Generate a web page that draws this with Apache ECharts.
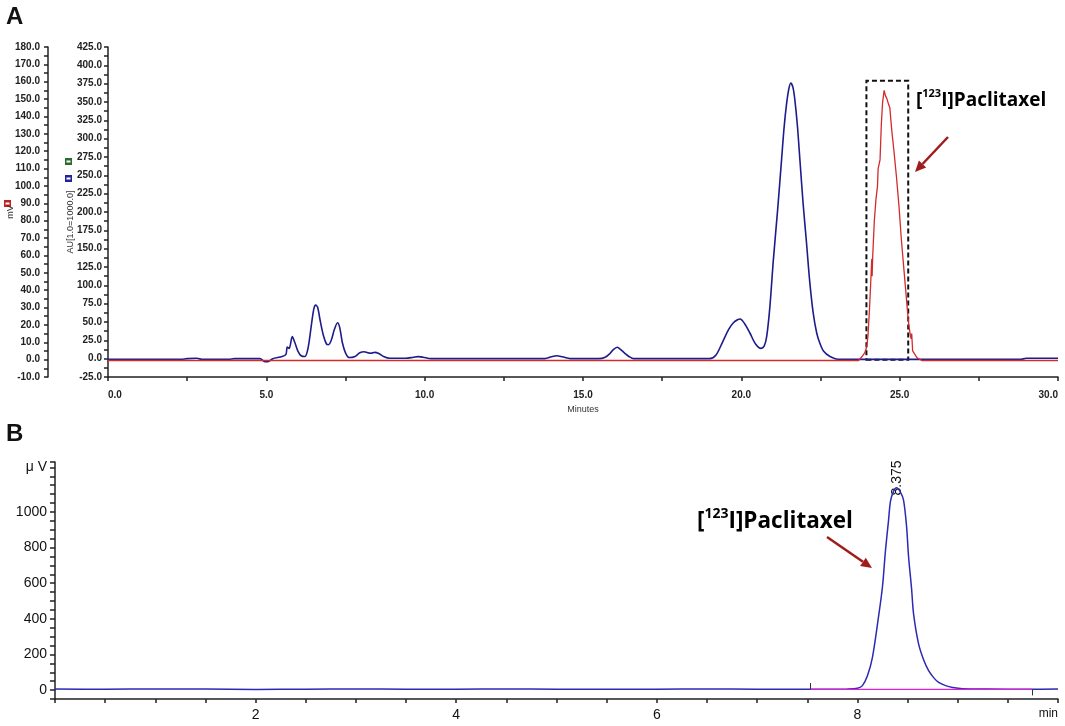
<!DOCTYPE html>
<html>
<head>
<meta charset="utf-8">
<script src="https://cdn.jsdelivr.net/npm/echarts@6/dist/echarts.min.js"></script>
<style>
  html, body { margin: 0; padding: 0; background: #fff; }
  #chart { width: 1065px; height: 726px; }
</style>
</head>
<body>
<div id="chart"></div>
<script>
// ---- panel A : UV trace (AU) and radio trace (mV) vs minutes ----
const uvTrace = [
  [0, -1], [2.3, -1], [2.5, 0], [2.8, 0.5], [3.0, -1], [3.8, -1], [4.0, 0], [4.8, 0],
  [4.95, -4], [5.05, -4], [5.2, 0], [5.5, 3], [5.62, 6], [5.66, 16], [5.72, 14], [5.82, 30],
  [5.9, 22], [6.0, 10], [6.1, 4], [6.22, 3], [6.32, 15], [6.42, 45], [6.5, 68], [6.56, 73],
  [6.62, 70], [6.7, 52], [6.8, 32], [6.9, 20], [6.96, 19], [7.05, 25], [7.15, 40], [7.25, 49],
  [7.32, 42], [7.4, 22], [7.5, 8], [7.62, 1.5], [7.8, 3], [7.95, 8], [8.09, 9.5], [8.2, 8],
  [8.3, 7.3], [8.43, 8.6], [8.55, 7], [8.7, 3], [8.9, 0.5], [9.4, 0.5], [9.65, 2], [9.8, 2.8],
  [9.95, 2], [10.2, 0], [13.8, 0], [14.0, 2.5], [14.17, 4], [14.35, 2.5], [14.6, 0], [15.5, 0],
  [15.7, 2], [15.85, 7], [15.95, 12], [16.08, 15.5], [16.2, 12], [16.33, 7], [16.45, 3], [16.6, 0],
  [19.0, 0], [19.2, 5], [19.4, 22], [19.6, 40], [19.75, 49], [19.88, 53], [19.96, 54], [20.1, 48],
  [20.27, 35], [20.45, 20], [20.62, 14], [20.72, 17], [20.8, 30], [20.9, 70], [21.01, 134],
  [21.15, 205], [21.27, 271], [21.35, 315], [21.43, 348], [21.5, 368], [21.56, 376], [21.63, 370],
  [21.69, 353], [21.77, 318], [21.85, 271], [21.95, 212], [22.06, 157], [22.16, 105], [22.27, 62],
  [22.38, 35], [22.48, 21], [22.6, 10], [22.8, 3], [23.1, -1], [28.8, -1], [29.0, 0.5], [30, 0.5]
];
const radioTrace = [
  [0, -0.5], [23.7, -0.5], [23.8, 1.5], [23.9, 4], [23.96, 7.4], [24.0, 14], [24.05, 30],
  [24.1, 50], [24.12, 58], [24.13, 48], [24.15, 60], [24.2, 80], [24.25, 92], [24.3, 100],
  [24.32, 110], [24.38, 115], [24.42, 135], [24.46, 148], [24.51, 155], [24.55, 152], [24.6, 150],
  [24.65, 147], [24.69, 145], [24.75, 132], [24.82, 120], [24.9, 105], [24.98, 88], [25.05, 70],
  [25.11, 57], [25.2, 38], [25.27, 23], [25.32, 16], [25.36, 12], [25.38, 15], [25.41, 5],
  [25.48, 3], [25.55, 1], [25.7, -0.5], [30, -0.5]
];
const radioBox = [23.95, 0, 25.27, 160.6]; // minutes / mV

// ---- panel B : radio-HPLC of the product ----
const hplcTrace = [
  [0, 6], [0.5, 5], [1, 6], [1.5, 6], [2, 4], [2.5, 5], [3, 6], [3.5, 5], [4, 5], [4.5, 6],
  [5, 5], [5.5, 5], [6, 5], [6.5, 6], [7, 5], [7.5, 5], [7.9, 6], [8.0, 10], [8.05, 25],
  [8.1, 80], [8.15, 184], [8.21, 409], [8.25, 580], [8.28, 784], [8.31, 950], [8.33, 1060],
  [8.36, 1115], [8.39, 1135], [8.43, 1110], [8.46, 1066], [8.49, 920], [8.51, 750], [8.54, 570],
  [8.56, 428], [8.61, 259], [8.66, 170], [8.71, 109], [8.76, 70], [8.81, 43], [8.88, 25],
  [8.95, 15], [9.05, 8], [9.3, 6], [9.7, 5], [10, 6]
];
const hplcBaseline = [[7.53, 4], [9.74, 4]];
const peakTime = '8.375';

const darkRed = '#a01c1c';
const axisCol = '#222';

function arrow(x1, y1, x2, y2) {
  const dx = x2 - x1, dy = y2 - y1, len = Math.sqrt(dx * dx + dy * dy);
  const ux = dx / len, uy = dy / len, hl = 11, hw = 5;
  const bx = x2 - ux * hl, by = y2 - uy * hl;
  return [
    { type: 'line', shape: { x1: x1, y1: y1, x2: bx, y2: by }, style: { stroke: darkRed, lineWidth: 2.5 } },
    { type: 'polygon', shape: { points: [[x2, y2], [bx - uy * hw, by + ux * hw], [bx + uy * hw, by - ux * hw]] }, style: { fill: darkRed } }
  ];
}

function legendBox(x, y, col) {
  return [
    { type: 'rect', shape: { x: x, y: y, width: 7, height: 7 }, style: { fill: col } },
    { type: 'rect', shape: { x: x + 1.5, y: y + 2.5, width: 4, height: 2 }, style: { fill: '#fff' } }
  ];
}

const labelRich = (size) => ({
  b: { fontSize: size, fontWeight: 'bold', color: darkRed, fontFamily: 'Open Sans', lineHeight: size * 1.3 },
  s: { fontSize: Math.round(size * 0.6), fontWeight: 'bold', color: darkRed, fontFamily: 'Open Sans', verticalAlign: 'top', lineHeight: size * 1.3 }
});

const chart = echarts.init(document.getElementById('chart'));

const tickStyle = { color: axisCol, width: 1.5 };
const lblA = { fontSize: 10, fontWeight: 'bold', color: axisCol, fontFamily: 'Liberation Sans' };
const nameA = { fontSize: 9, color: '#333', fontFamily: 'Liberation Sans' };

const option = {
  animation: false,
  backgroundColor: '#fff',
  grid: [
    { left: 108, top: 47, right: 7, height: 330, outerBoundsMode: 'none', containLabel: false },
    { left: 55, top: 462, right: 7, height: 237, outerBoundsMode: 'none', containLabel: false }
  ],
  xAxis: [
    {
      gridIndex: 0, type: 'value', min: 0, max: 30, interval: 2.5,
      name: 'Minutes', nameLocation: 'middle', nameGap: 28, nameTextStyle: nameA,
      axisLine: { onZero: false, lineStyle: tickStyle },
      axisTick: { length: 4, lineStyle: tickStyle },
      axisLabel: Object.assign({
        margin: 13, alignMinLabel: 'left', alignMaxLabel: 'right',
        formatter: v => (v % 5 === 0 ? v.toFixed(1) : '')
      }, lblA),
      splitLine: { show: false }
    },
    {
      gridIndex: 1, type: 'value', min: 0, max: 10, interval: 0.5,
      axisLine: { onZero: false, lineStyle: tickStyle },
      axisTick: { length: 4, lineStyle: tickStyle },
      axisLabel: {
        margin: 9, fontSize: 14, color: '#111', fontFamily: 'Liberation Sans', alignMaxLabel: 'right',
        formatter: v => (v === 10 ? '{u|min}' : (v > 0 && v % 2 === 0 ? String(v) : '')),
        rich: { u: { fontSize: 12, color: '#111', fontFamily: 'Liberation Sans' } }
      },
      splitLine: { show: false }
    }
  ],
  yAxis: [
    {
      gridIndex: 0, type: 'value', position: 'left', offset: 60, min: -10, max: 180, interval: 5,
      name: 'mV', nameLocation: 'middle', nameRotate: 90, nameGap: 33, nameMoveOverlap: false,
      nameTextStyle: nameA,
      axisLine: { show: true, onZero: false, lineStyle: tickStyle },
      axisTick: { length: 4, lineStyle: tickStyle },
      axisLabel: Object.assign({ margin: 8, formatter: v => (v % 10 === 0 ? v.toFixed(1) : '') }, lblA),
      splitLine: { show: false }
    },
    {
      gridIndex: 0, type: 'value', position: 'left', offset: 0, min: -25, max: 425, interval: 12.5,
      name: 'AU[1.0=1000.0]', nameLocation: 'middle', nameRotate: 90, nameGap: 33, nameMoveOverlap: false,
      nameTextStyle: Object.assign({ padding: [0, 20, 0, 0] }, nameA),
      axisLine: { show: true, onZero: false, lineStyle: tickStyle },
      axisTick: { length: 4, lineStyle: tickStyle },
      axisLabel: Object.assign({ margin: 6, formatter: v => (v % 25 === 0 ? v.toFixed(1) : '') }, lblA),
      splitLine: { show: false }
    },
    {
      gridIndex: 1, type: 'value', min: -50, max: 1280, interval: 50,
      axisLine: { show: true, onZero: false, lineStyle: tickStyle },
      axisTick: { length: 5, lineStyle: tickStyle },
      axisLabel: {
        margin: 8, fontSize: 14, color: '#111', fontFamily: 'Liberation Sans',
        formatter: v => (v === 1250 ? 'μ V' : (v >= 0 && v <= 1000 && v % 200 === 0 ? String(v) : ''))
      },
      splitLine: { show: false }
    }
  ],
  series: [
    {
      name: 'radio', type: 'line', xAxisIndex: 0, yAxisIndex: 0, data: radioTrace,
      showSymbol: false, lineStyle: { color: '#d22b2b', width: 1.3 }, z: 3,
      markArea: {
        silent: true,
        itemStyle: { color: 'rgba(0,0,0,0)', borderColor: '#111', borderWidth: 2, borderType: [5, 3] },
        data: [[{ xAxis: radioBox[0], yAxis: radioBox[1] }, { xAxis: radioBox[2], yAxis: radioBox[3] }]]
      }
    },
    {
      name: 'uv', type: 'line', xAxisIndex: 0, yAxisIndex: 1, data: uvTrace,
      showSymbol: false, smooth: 0.3, lineStyle: { color: '#1c1c8c', width: 1.6 }, z: 2
    },
    {
      name: 'hplc', type: 'line', xAxisIndex: 1, yAxisIndex: 2, data: hplcTrace,
      showSymbol: false, smooth: 0.3, lineStyle: { color: '#2a2ab4', width: 1.5 },
      markLine: {
        silent: true, symbol: 'none', label: { show: false },
        lineStyle: { color: '#333', width: 1, type: 'solid' },
        data: [
          [{ coord: [hplcBaseline[0][0], hplcBaseline[0][1]] }, { coord: [hplcBaseline[0][0], 40] }],
          [{ coord: [hplcBaseline[1][0], hplcBaseline[1][1]] }, { coord: [hplcBaseline[1][0], -30] }]
        ]
      }
    },
    {
      name: 'baseline', type: 'line', xAxisIndex: 1, yAxisIndex: 2, data: hplcBaseline,
      showSymbol: false, lineStyle: { color: '#e020d8', width: 1.4 }, z: 4
    }
  ],
  graphic: [
    { type: 'text', left: 6, top: 5, style: { text: 'A', font: 'bold 24px Liberation Sans', fill: '#111' } },
    { type: 'text', left: 6, top: 422, style: { text: 'B', font: 'bold 24px Liberation Sans', fill: '#111' } },
    ...legendBox(65, 158, '#2d6a2d'),
    ...legendBox(65, 175, '#24249a'),
    ...legendBox(4, 200, '#c42020'),
    { type: 'text', x: 916, y: 101, style: { text: '{b|[}{s|123}{b|I]Paclitaxel}', rich: labelRich(19), verticalAlign: 'middle' } },
    ...arrow(948, 137, 915, 172),
    { type: 'text', x: 697, y: 522, style: { text: '{b|[}{s|123}{b|I]Paclitaxel}', rich: labelRich(22.5), verticalAlign: 'middle' } },
    ...arrow(827, 537, 872, 568),
    { type: 'text', x: 897, y: 478, rotation: Math.PI / 2, style: { text: peakTime, font: '14px Liberation Sans', fill: '#111', align: 'center', verticalAlign: 'middle' } }
  ]
};

chart.setOption(option);
</script>
</body>
</html>
